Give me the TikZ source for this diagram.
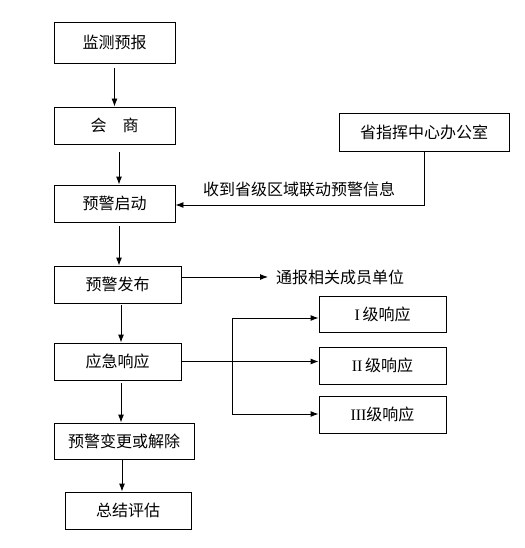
\documentclass[tikz,border=0pt]{standalone}
\usepackage{fontspec}
\setmainfont{Noto Sans CJK SC}
\newfontfamily\romfont{Liberation Serif}
\usetikzlibrary{arrows.meta}
\begin{document}
\begin{tikzpicture}[x=1pt,y=-1pt,
  font=\fontsize{16}{19}\selectfont,
  box/.style={draw,line width=0.9pt,inner sep=0pt,minimum width=#1},
  arr/.style={line width=0.9pt,-{Latex[length=8pt,width=6pt]}},
  ln/.style={line width=0.9pt}]
\useasboundingbox (0,0) rectangle (524,548);
\node[box=121pt,minimum height=41pt] (b1) at (114.5,42.5) {监测预报};
\node[box=121pt,minimum height=37pt] (b2) at (114.5,125.5) {会\hspace{1em}商};
\node[box=121pt,minimum height=37pt] (b3) at (114.5,203.5) {预警启动};
\node[box=170pt,minimum height=38pt] (sh) at (424,132) {省指挥中心办公室};
\node[box=127pt,minimum height=37pt] (b4) at (117.5,284.5) {预警发布};
\node[box=127pt,minimum height=37pt] (b5) at (117.5,361.5) {应急响应};
\node[box=127pt,minimum height=36pt] (r1) at (382.5,314) {{\romfont I}\,级响应};
\node[box=127pt,minimum height=37pt] (r2) at (382.5,365.5) {{\romfont II}\,级响应};
\node[box=127pt,minimum height=37pt] (r3) at (382.5,414.5) {{\romfont III}级响应};
\node[box=140pt,minimum height=36pt] (b6) at (124,441) {预警变更或解除};
\node[box=126pt,minimum height=37pt] (b7) at (128,510.5) {总结评估};
\node[anchor=west,inner sep=0pt] (tb) at (276,277) {通报相关成员单位};
\node (lab) at (299,189) {收到省级区域联动预警信息};
\coordinate (ja) at (232,318);
\coordinate (jb) at (232,414);
% vertical flow
\draw[arr,shorten <=5pt] (b1.south) -- (b2.north);
\draw[arr,shorten <=8pt] ([xshift=4.5pt]b2.south) -- ([xshift=4.5pt]b3.north);
\draw[arr,shorten <=4pt] ([xshift=4.5pt]b3.south) -- ([xshift=4.5pt]b3.south |- b4.north);
\draw[arr,shorten <=2pt] ([xshift=3.5pt]b4.south) -- ([xshift=3.5pt]b5.north);
\draw[arr,shorten <=3pt] ([xshift=3.5pt]b5.south) -- ([xshift=-3pt]b6.north);
\draw[arr] ([xshift=-2pt]b6.south) -- ([xshift=-6pt]b7.north);
% from provincial office
\draw[arr] (sh.south) |- ([yshift=-1.5pt]b3.east);
% notify
\draw[arr,shorten >=8pt] (b4.east |- tb.west) -- (tb.west);
% response levels
\draw[arr] (b5.east) -- (b5.east -| r2.west);
\draw[ln] (ja) -- (jb);
\draw[arr] (ja) -- (ja -| r1.west);
\draw[arr] (jb) -- (jb -| r3.west);
\end{tikzpicture}
\end{document}
